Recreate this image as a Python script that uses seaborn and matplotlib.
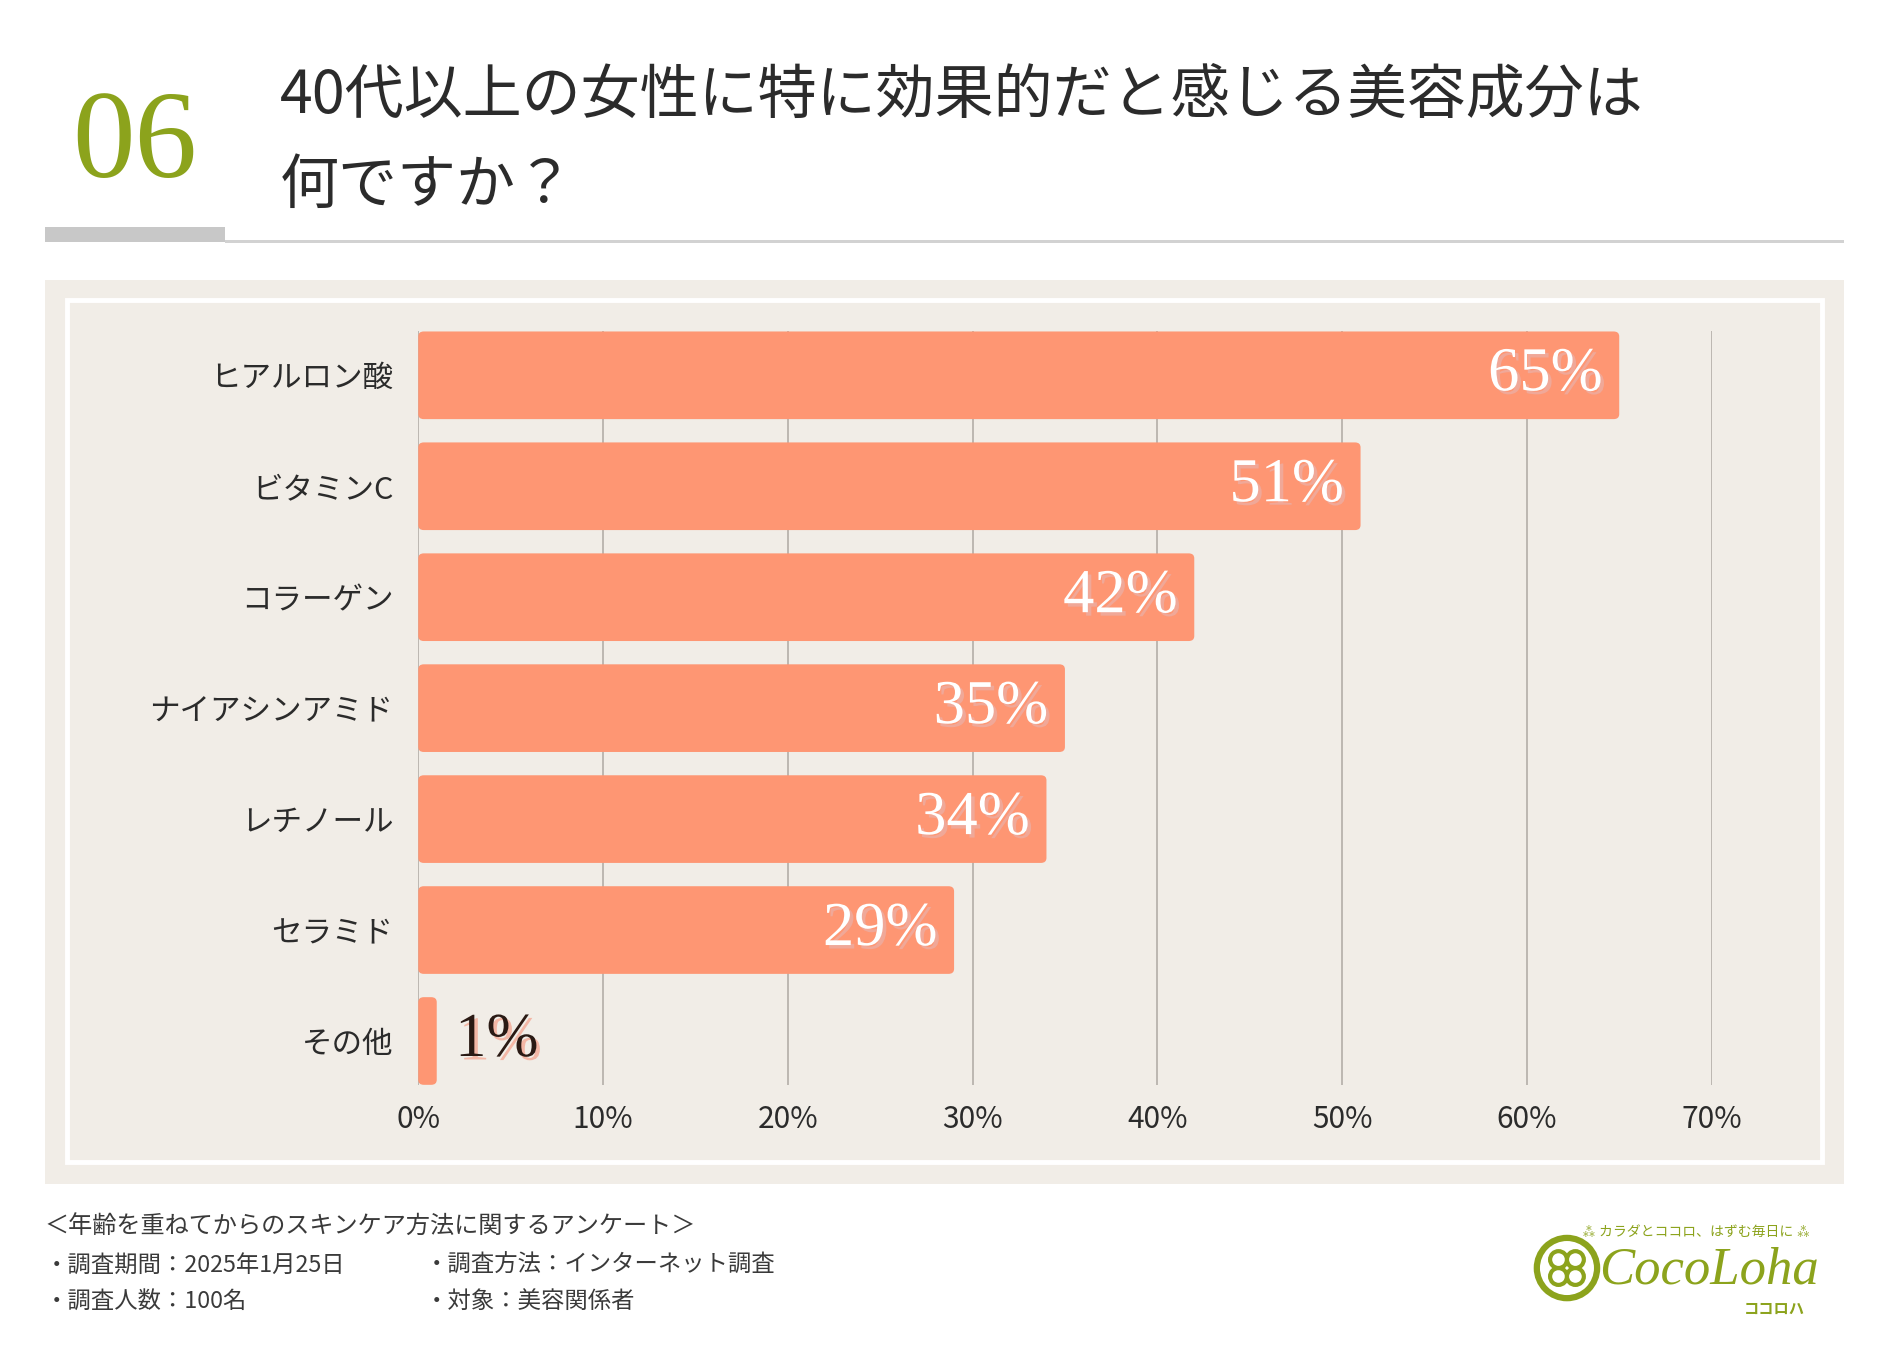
import matplotlib
matplotlib.use("Agg")
import matplotlib.pyplot as plt
import matplotlib.patches as mpatches
import matplotlib.patheffects as pe
import seaborn as sns
import pandas as pd

# data
items = ["ヒアルロン酸", "ビタミンC", "コラーゲン", "ナイアシンアミド", "レチノール", "セラミド", "その他"]
shares = [65, 51, 42, 35, 34, 29, 1]
x_ticks = [0, 10, 20, 30, 40, 50, 60, 70]

title_no = "06"
title_lines = ["40代以上の女性に特に効果的だと感じる美容成分は", "何ですか？"]
survey_title = "＜年齢を重ねてからのスキンケア方法に関するアンケート＞"
survey_left = ["・調査期間：2025年1月25日", "・調査人数：100名"]
survey_right = ["・調査方法：インターネット調査", "・対象：美容関係者"]

df = pd.DataFrame({"item": items, "share": shares})

BAR = "#fe9673"
BEIGE = "#f1ede7"
GREEN = "#8ca31c"
TEXT = "#2b2b2b"
JP = ["Noto Sans CJK JP", "DejaVu Sans"]
SERIF = ["Liberation Serif", "DejaVu Serif"]

sns.set_theme(style="white")
plt.rcParams["font.family"] = JP

W, H = 1568, 1120  # layout measured on a scaled copy of the picture


def fx(x):
    return x / W


def fy(y):
    return 1 - y / H


fig = plt.figure(figsize=(18.9, 13.5), dpi=100)
fig.patch.set_facecolor("white")

# header
fig.text(fx(112), fy(122), title_no, fontsize=90, color=GREEN, family=SERIF,
         ha="center", va="center")
fig.text(fx(232), fy(80), title_lines[0], fontsize=42.5, color=TEXT, family=JP,
         ha="left", va="center")
fig.text(fx(232), fy(155), title_lines[1], fontsize=42.5, color=TEXT, family=JP,
         ha="left", va="center")
fig.add_artist(mpatches.Rectangle((fx(37), fy(201)), fx(150), 13 / H,
                                  transform=fig.transFigure, color="#c8c8c8", lw=0))
fig.add_artist(mpatches.Rectangle((fx(187), fy(202)), fx(1343), 3 / H,
                                  transform=fig.transFigure, color="#d2d2d2", lw=0))

# beige panel with white inner frame
fig.add_artist(mpatches.Rectangle((fx(37), fy(982)), fx(1493), 750 / H,
                                  transform=fig.transFigure, color=BEIGE, lw=0, zorder=0))
fig.add_artist(mpatches.Rectangle((fx(56), fy(964)), fx(1456), 715 / H,
                                  transform=fig.transFigure, fill=False,
                                  edgecolor="white", lw=3.5, zorder=0.5))

# bar chart
ax = fig.add_axes([fx(347), fy(900), fx(1420 - 347), 625 / H])
ax.set_facecolor(BEIGE)
ax.patch.set_alpha(0)
sns.barplot(data=df, x="share", y="item", color=BAR, width=0.79, saturation=1,
            ax=ax, zorder=3)

# swap plain bars for slightly rounded ones
for bar in list(ax.patches):
    x0, y0 = bar.get_x(), bar.get_y()
    w, h = bar.get_width(), bar.get_height()
    bar.set_visible(False)
    ax.add_patch(mpatches.FancyBboxPatch((x0, y0), w, h,
                                         boxstyle="round,pad=0,rounding_size=0.3",
                                         mutation_aspect=0.15, facecolor=BAR,
                                         edgecolor="none", zorder=3))

ax.set_xlim(0, 70)
ax.set_ylim(len(items) - 1 + 0.395, -0.395)
ax.set_xticks(x_ticks)
ax.set_xticklabels([f"{t}%" for t in x_ticks], fontsize=21.5, color=TEXT)
ax.tick_params(axis="x", length=0, pad=14)
ax.tick_params(axis="y", length=0, pad=18, labelsize=22, labelcolor=TEXT)
ax.set_xlabel("")
ax.set_ylabel("")
for t in x_ticks:
    ax.axvline(t, color="#b3aea8", lw=1.2, zorder=1)
for s in ax.spines.values():
    s.set_visible(False)

for i, v in enumerate(shares):
    if v >= 10:
        ax.text(v - 0.9, i, f"{v}%", ha="right", va="center", fontsize=45,
                color="white", family=SERIF, zorder=5,
                path_effects=[pe.withSimplePatchShadow(offset=(2.5, -2.5),
                                                       shadow_rgbFace="#f0a898",
                                                       alpha=1)])
    else:
        ax.text(v + 1.0, i, f"{v}%", ha="left", va="center", fontsize=45,
                color="#2a1a14", family=SERIF, zorder=5,
                path_effects=[pe.withSimplePatchShadow(offset=(2.5, -2.5),
                                                       shadow_rgbFace="#f3b7a6",
                                                       alpha=1)])

# footer
fig.text(fx(37), fy(1018), survey_title, fontsize=17.4, color="#3a3a3a", va="center")
for k, y in enumerate([1050, 1080]):
    fig.text(fx(37), fy(y), survey_left[k], fontsize=16.8, color="#3a3a3a", va="center")
    fig.text(fx(352), fy(y), survey_right[k], fontsize=16.8, color="#3a3a3a", va="center")

# logo
fig.text(fx(1407), fy(1022), "⁂ カラダとココロ、はずむ毎日に ⁂", fontsize=10, color=GREEN,
         ha="center", va="center", family=JP)
fig.text(fx(1418), fy(1054), "CocoLoha", fontsize=38, color=GREEN, family=SERIF,
         style="italic", ha="center", va="center")
fig.text(fx(1472), fy(1086), "ココロハ", fontsize=11, color=GREEN, ha="center",
         va="center", weight="bold")
cx, cy, r = 1300, 1052, 25
fig.add_artist(mpatches.Ellipse((fx(cx), fy(cy)), 2 * r / W, 2 * r / H,
                                transform=fig.transFigure, fill=False,
                                edgecolor=GREEN, lw=4.5))
for dx, dy in [(-7, -7), (7, -7), (-7, 7), (7, 7)]:
    fig.add_artist(mpatches.Ellipse((fx(cx + dx), fy(cy + dy)), 14 / W, 14 / H,
                                    transform=fig.transFigure, fill=False,
                                    edgecolor=GREEN, lw=3))

fig.savefig("out.png", dpi=100, facecolor="white")
